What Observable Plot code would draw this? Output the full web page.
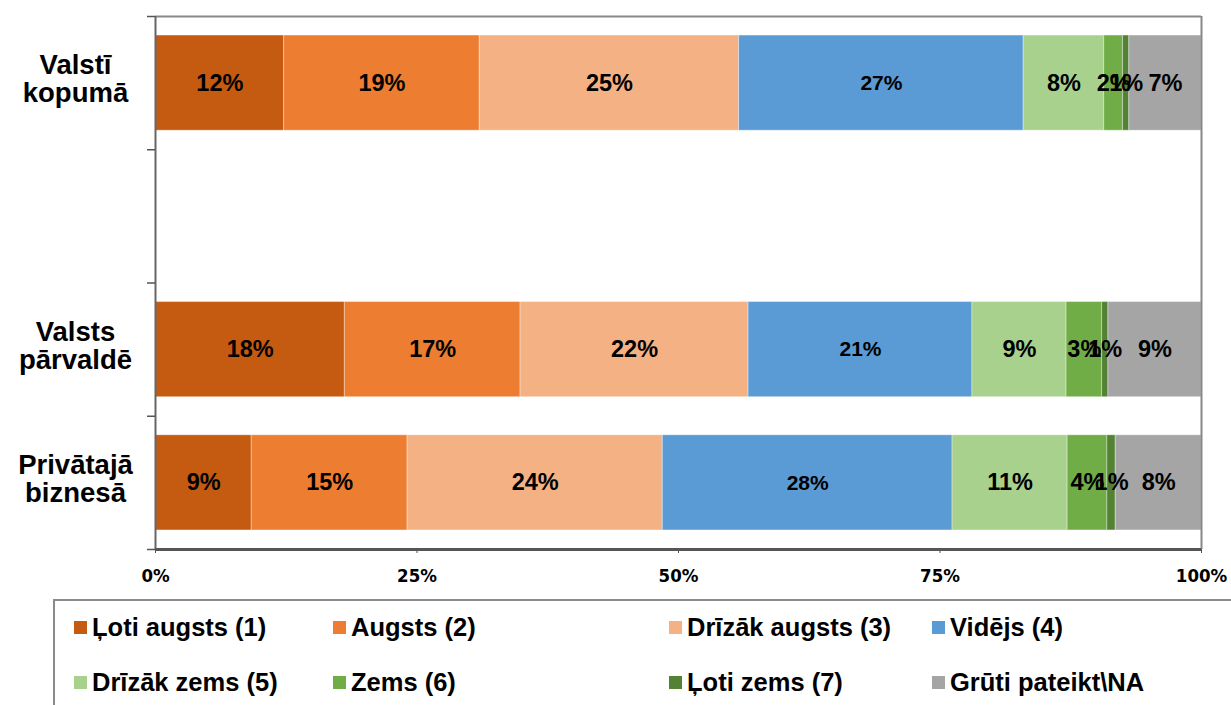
<!DOCTYPE html>
<html>
<head>
<meta charset="utf-8">
<script src="https://cdn.jsdelivr.net/npm/d3@7"></script>
<script src="https://cdn.jsdelivr.net/npm/@observablehq/plot@0.6"></script>
<style>
  html, body { margin: 0; padding: 0; background: #fff; }
  body { width: 1231px; height: 705px; position: relative; overflow: hidden; font-family: "Liberation Sans", Arial, sans-serif; }
  #chart { position: absolute; left: 0; top: 0; }
  #legend { position: absolute; left: 53px; top: 599px; width: 1200px; height: 110px; border: 2px solid #8a8a8a; box-sizing: border-box; }
  .item { position: absolute; display: flex; align-items: center; font-weight: bold; font-size: 25.5px; color: #000; white-space: nowrap; }
  .sw { width: 13px; height: 13px; margin-right: 5px; }
</style>
</head>
<body>
<div id="chart"></div>
<div id="legend"></div>
<script>
// ---- data ----
const categories = ["Valstī kopumā", "", "Valsts pārvaldē", "Privātajā biznesā"];
const categoryLines = [["Valstī", "kopumā"], [], ["Valsts", "pārvaldē"], ["Privātajā", "biznesā"]];
const series = ["Ļoti augsts (1)", "Augsts (2)", "Drīzāk augsts (3)", "Vidējs (4)", "Drīzāk zems (5)", "Zems (6)", "Ļoti zems (7)", "Grūti pateikt\\NA"];
const colors = ["#C55A11", "#ED7D31", "#F4B183", "#5B9BD5", "#A9D18E", "#70AD47", "#548235", "#A5A5A5"];
const valstiKopuma = [12.3, 18.7, 24.8, 27.2, 7.7, 1.8, 0.6, 6.9];
const valstsParvalde = [18.1, 16.8, 21.8, 21.4, 9.0, 3.4, 0.6, 8.9];
const privatajaBizness = [9.2, 14.9, 24.4, 27.7, 11.0, 3.8, 0.8, 8.2];
const xTicks = [0, 25, 50, 75, 100];

// ---- build table ----
const rowValues = {"Valstī kopumā": valstiKopuma, "Valsts pārvaldē": valstsParvalde, "Privātajā biznesā": privatajaBizness};
const segs = [];
categories.forEach((cat, i) => {
  const vals = rowValues[cat];
  if (!vals) return;
  let acc = 0;
  vals.forEach((v, j) => {
    segs.push({cat, row: i, series: series[j], value: v, x1: acc, x2: acc + v, label: Math.round(v) + "%"});
    acc += v;
  });
});
const inset = 0.143;
const catLabels = categories.map((c, i) => ({row: i, text: categoryLines[i].join("\n")})).filter(d => d.text);

const font = "'Liberation Sans', Arial, sans-serif";
const plot = Plot.plot({
  width: 1231,
  height: 595,
  marginLeft: 155,
  marginRight: 30,
  marginTop: 16,
  marginBottom: 46,
  style: {fontFamily: font, background: "white", overflow: "visible"},
  x: {domain: [0, 100], ticks: xTicks, tickFormat: d => d + "%"},
  y: {domain: [categories.length, 0], ticks: d3.range(categories.length + 1)},
  color: {domain: series, range: colors},
  marks: [
    Plot.rectX(segs, {x1: "x1", x2: "x2", y1: d => d.row + inset, y2: d => d.row + 1 - inset, fill: "series", stroke: "white", strokeOpacity: 0.35, strokeWidth: 1}),
    Plot.text(segs, {x: d => (d.x1 + d.x2) / 2, y: d => d.row + 0.5, text: "label", fontWeight: "bold", fontSize: d => d.series === "Vidējs (4)" ? 21 : 23.5, fill: "black"}),
    Plot.text(catLabels, {x: 0, y: d => d.row + 0.5, text: "text", dx: -80, dy: -4, textAnchor: "middle", fontWeight: "bold", fontSize: 27.5, lineHeight: 1.02, fill: "black"}),
    Plot.ruleY([0], {stroke: "#888", strokeWidth: 2}),
    Plot.ruleX([100], {stroke: "#888", strokeWidth: 2}),
    Plot.ruleX([0], {stroke: "#666", strokeWidth: 2}),
    Plot.ruleY([categories.length], {stroke: "#555", strokeWidth: 3}),
    Plot.axisY({ticks: d3.range(categories.length + 1), tickSize: 8, tickFormat: () => "", stroke: "#555", strokeWidth: 1.5}),
    Plot.axisX({ticks: xTicks, tickFormat: d => d + "%", tickSize: 4, tickPadding: 15, fontSize: 18.5, fontWeight: "bold", fontFamily: "'Liberation Sans Narrow', 'DejaVu Sans Condensed', 'Liberation Sans', Arial, sans-serif", stroke: "#555", fill: "black"})
  ]
});
document.getElementById("chart").appendChild(plot);

// ---- legend ----
const legendPos = [[19, 26], [278, 26], [614, 26], [877, 26], [19, 81], [278, 81], [614, 81], [877, 81]];
const legend = document.getElementById("legend");
series.forEach((s, i) => {
  const el = document.createElement("div");
  el.className = "item";
  el.style.left = legendPos[i][0] + "px";
  el.style.top = (legendPos[i][1] - 16) + "px";
  el.style.height = "32px";
  const sw = document.createElement("span");
  sw.className = "sw";
  sw.style.background = colors[i];
  const t = document.createElement("span");
  t.textContent = s;
  el.appendChild(sw);
  el.appendChild(t);
  legend.appendChild(el);
});
</script>
</body>
</html>
